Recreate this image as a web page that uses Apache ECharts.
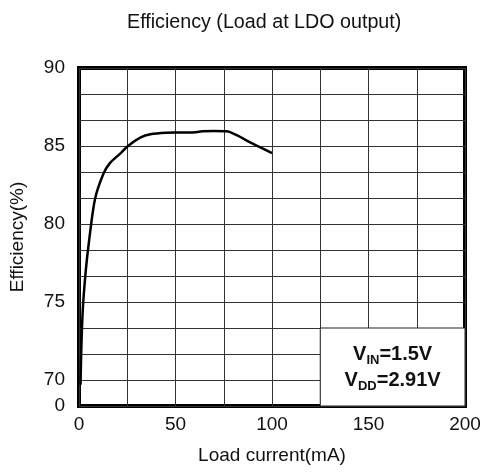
<!DOCTYPE html>
<html lang="en">
<head>
    <meta charset="UTF-8">
    <title>Efficiency</title>
    <style>
        * { padding: 0; margin: 0; }
        html, body { width: 100%; height: 100%; background: #fff; }
        #chart { width: 480px; height: 474px; }
    </style>
</head>
<body>
    <div id="chart"></div>
    <script src="https://cdn.jsdelivr.net/npm/echarts@6/dist/echarts.min.js"></script>
    <script type="text/javascript">
        // load current (mA) and efficiency (%)
        const loadCurrent = [0.8, 1.2, 2, 3.5, 5.2, 8.3, 12.6, 16, 21.2, 25.4, 32, 37, 45, 50, 57.5, 64, 70, 76.5, 81.7, 90, 100];
        const efficiency = [69.7, 72, 74.6, 77, 78.9, 81.6, 83.2, 83.9, 84.5, 85.0, 85.55, 85.75, 85.85, 85.86, 85.86, 85.94, 85.96, 85.94, 85.69, 85.15, 84.55];

        // y axis is broken: bottom shows "0", then 70..90 with grid every 5/3 %
        const yTickLabels = ['70', '75', '80', '85', '90'];
        const yBreakLabel = '0';
        const xTickLabels = ['0', '50', '100', '150', '200'];

        const yStep = 5 / 3;
        const toAxis = v => (v - 70) / yStep + 1;   // grid-cell units, 0 = break

        const seriesData = loadCurrent.map((x, i) => [x, toAxis(efficiency[i])]);
        const font = 'Liberation Sans, Arial, sans-serif';

        const myChart = echarts.init(document.getElementById('chart'));
        const option = {
            backgroundColor: '#fff',
            animation: false,
            title: {
                text: 'Efficiency (Load at LDO output)',
                left: 122,
                top: 8,
                textStyle: { fontFamily: font, fontSize: 19.7, fontWeight: 'normal', color: '#111' }
            },
            grid: {
                left: 79, right: 15, top: 68, bottom: 68,
                outerBoundsMode: 'none',
                containLabel: false,
                show: true,
                borderColor: '#000',
                borderWidth: 4,
                backgroundColor: '#fff'
            },
            xAxis: {
                type: 'value',
                min: 0, max: 200, interval: 25,
                name: 'Load current(mA)',
                nameLocation: 'middle',
                nameGap: 40,
                nameTextStyle: { fontFamily: font, fontSize: 19, color: '#111' },
                axisLine: { show: false },
                axisTick: { show: false },
                axisLabel: {
                    margin: 9,
                    fontFamily: font, fontSize: 19, color: '#111',
                    formatter: v => xTickLabels.includes(String(v)) ? String(v) : ''
                },
                splitLine: { show: true, lineStyle: { color: '#333', width: 1 } }
            },
            yAxis: {
                type: 'value',
                min: 0, max: 13, interval: 1,
                name: 'Efficiency(%)',
                nameLocation: 'middle',
                nameGap: 52,
                nameTextStyle: { fontFamily: font, fontSize: 19, color: '#111' },
                axisLine: { show: false },
                axisTick: { show: false },
                axisLabel: {
                    margin: 14,
                    fontFamily: font, fontSize: 19, color: '#111',
                    formatter: v => {
                        if (v === 0) return yBreakLabel;
                        const eff = String(Math.round((v - 1) * yStep + 70));
                        return (v - 1) % 3 === 0 && yTickLabels.includes(eff) ? eff : '';
                    }
                },
                splitLine: { show: true, lineStyle: { color: '#333', width: 1 } }
            },
            series: [{
                type: 'line',
                data: seriesData,
                showSymbol: false,
                smooth: 0.3,
                lineStyle: { color: '#000', width: 2.5 },
                markArea: {
                    silent: true,
                    itemStyle: { color: '#fff', borderColor: '#222', borderWidth: 1 },
                    label: {
                        show: true,
                        position: 'inside',
                        formatter: '{m|V}{s|IN}{m|=1.5V}\n{m|V}{s|DD}{m|=2.91V}',
                        rich: {
                            m: { fontFamily: font, fontSize: 20, fontWeight: 'bold', color: '#111', lineHeight: 26 },
                            s: { fontFamily: font, fontSize: 13, fontWeight: 'bold', color: '#111', lineHeight: 26, verticalAlign: 'bottom', padding: [10, 0, 0, 0] }
                        }
                    },
                    data: [[{ xAxis: 125, yAxis: 0 }, { xAxis: 200, yAxis: 3 }]]
                }
            }]
        };
        myChart.setOption(option);
    </script>
</body>
</html>
